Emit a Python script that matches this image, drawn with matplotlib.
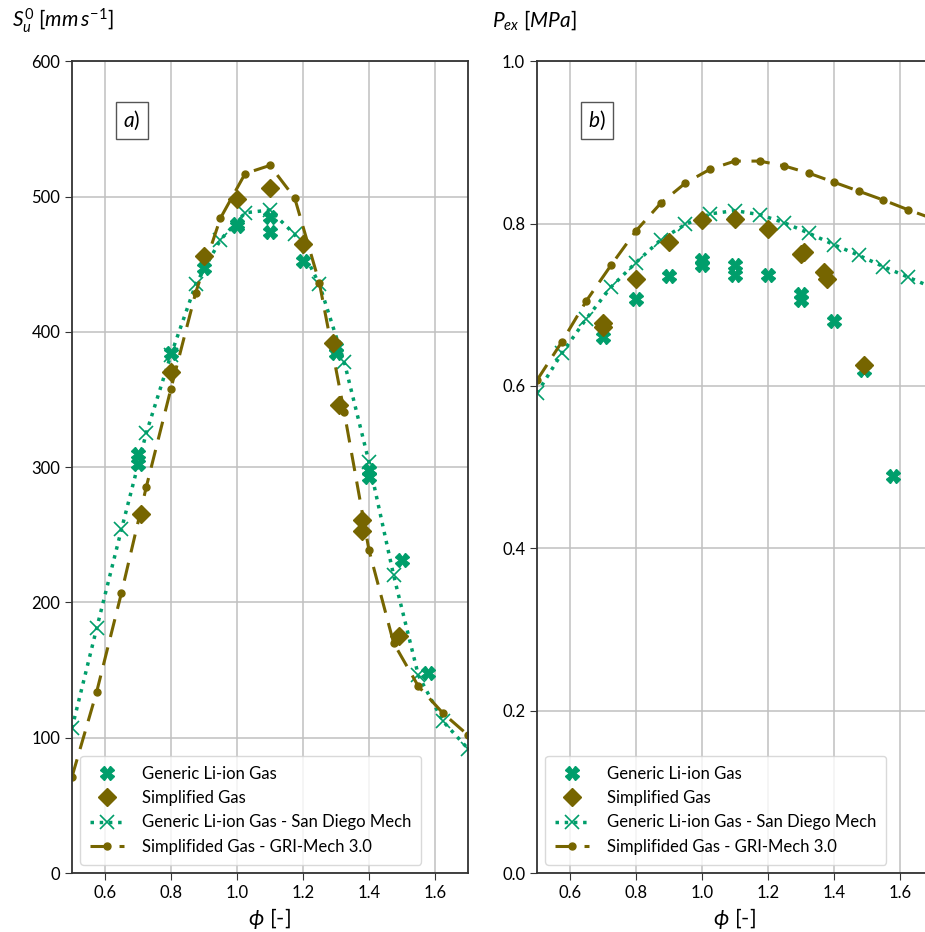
import matplotlib
matplotlib.use("Agg")
import matplotlib.pyplot as plt

plt.rcParams["font.family"] = ["Lato", "DejaVu Sans"]
plt.rcParams["mathtext.fontset"] = "custom"
plt.rcParams["mathtext.rm"] = "Lato"
plt.rcParams["mathtext.it"] = "Lato:italic"

GREEN = "#009e6b"
OLIVE = "#766500"

# equivalence ratio grid of the mechanism curves
phi_mech = [0.5, 0.575, 0.65, 0.725, 0.8, 0.875, 0.95, 1.025, 1.1, 1.175,
            1.25, 1.325, 1.4, 1.475, 1.55, 1.625, 1.7]

# (a) laminar burning velocity [mm/s]
gen_a_phi = [0.70, 0.70, 0.80, 0.90, 1.00, 1.00, 1.10, 1.10, 1.20, 1.30, 1.30, 1.40, 1.40, 1.50, 1.58]
gen_a_su = [310, 302, 384, 447, 480, 478, 485, 474, 452, 389, 384, 298, 293, 231, 148]
simp_a_phi = [0.71, 0.80, 0.90, 1.00, 1.10, 1.20, 1.29, 1.31, 1.38, 1.38, 1.49]
simp_a_su = [265, 370, 456, 498, 506, 465, 392, 346, 261, 253, 175]
sd_a = [107, 181, 254, 325, 383, 435, 468, 488, 490, 472, 435, 378, 304, 220, 146, 112, 92]
gri_a = [71, 134, 207, 285, 358, 429, 484, 517, 523, 499, 436, 341, 239, 170, 138, 118, 102]

# (b) explosion pressure [MPa]
gen_b_phi = [0.70, 0.80, 0.90, 1.00, 1.00, 1.10, 1.10, 1.20, 1.30, 1.30, 1.40, 1.49, 1.58]
gen_b_p = [0.660, 0.707, 0.736, 0.755, 0.749, 0.749, 0.737, 0.737, 0.713, 0.706, 0.680, 0.620, 0.489]
simp_b_phi = [0.70, 0.70, 0.80, 0.90, 1.00, 1.10, 1.20, 1.30, 1.31, 1.37, 1.38, 1.49]
simp_b_p = [0.677, 0.672, 0.732, 0.777, 0.804, 0.806, 0.793, 0.762, 0.765, 0.740, 0.732, 0.626]
sd_b = [0.591, 0.640, 0.683, 0.722, 0.752, 0.780, 0.799, 0.812, 0.816, 0.811,
        0.801, 0.788, 0.774, 0.761, 0.747, 0.734, 0.721]
gri_b = [0.607, 0.654, 0.705, 0.749, 0.791, 0.825, 0.850, 0.867, 0.877, 0.877,
         0.871, 0.862, 0.851, 0.840, 0.829, 0.817, 0.806]

x_ticks = [0.6, 0.8, 1.0, 1.2, 1.4, 1.6]
labels = ["Generic Li-ion Gas", "Simplified Gas",
          "Generic Li-ion Gas - San Diego Mech", "Simplifided Gas - GRI-Mech 3.0"]

FS = 12


def draw_panel(ax, gx, gy, sx, sy, sd, gri, ylim, yticks, tag, ylabel, ylab_x):
    ax.plot(gx, gy, "X", color=GREEN, ms=10, ls="none", label=labels[0], zorder=3)
    ax.plot(sx, sy, "D", color=OLIVE, ms=9, ls="none", label=labels[1], zorder=3)
    ax.plot(phi_mech, sd, color=GREEN, ls=":", lw=2.5, marker="x", ms=10,
            mew=1.2, label=labels[2], zorder=2)
    ax.plot(phi_mech, gri, color=OLIVE, lw=2.2, dashes=(6, 3.5), marker="o",
            ms=5, label=labels[3], zorder=2)
    ax.set_xlim(0.5, 1.7)
    ax.set_ylim(*ylim)
    ax.set_xticks(x_ticks)
    ax.set_yticks(yticks)
    ax.grid(True, color="#c0c0c0", lw=1.1)
    ax.set_axisbelow(True)
    ax.tick_params(labelsize=FS, length=5, color="#333333")
    for s in ax.spines.values():
        s.set_color("#333333")
        s.set_linewidth(1.3)
    ax.set_xlabel(r"$\phi$ [-]", fontsize=16, labelpad=4)
    ax.text(0.152, 0.927, tag, transform=ax.transAxes, fontsize=15,
            ha="center", va="center",
            bbox=dict(boxstyle="square,pad=0.35", fc="white", ec="#555555", lw=1))
    ax.text(ylab_x, 1.05, ylabel, transform=ax.transAxes, fontsize=15,
            ha="left", va="center")
    ax.legend(loc="lower left", fontsize=FS, borderaxespad=0.5, handlelength=2.0,
              framealpha=0.8, edgecolor="#d0d0d0", labelspacing=0.5,
              handletextpad=1.1, borderpad=0.6)


fig = plt.figure(figsize=(9.25, 9.32), dpi=100)
ax_a = fig.add_axes([0.0778, 0.0633, 0.428, 0.871])
ax_b = fig.add_axes([0.5805, 0.0633, 0.428, 0.871])

draw_panel(ax_a, gen_a_phi, gen_a_su, simp_a_phi, simp_a_su, sd_a, gri_a,
           (0, 600), [0, 100, 200, 300, 400, 500, 600], r"$a$)",
           r"$S_u^0\ [mm\,s^{-1}]$", -0.152)
draw_panel(ax_b, gen_b_phi, gen_b_p, simp_b_phi, simp_b_p, sd_b, gri_b,
           (0.0, 1.0), [0.0, 0.2, 0.4, 0.6, 0.8, 1.0], r"$b$)",
           r"$P_{ex}\ [MPa]$", -0.114)

fig.savefig("out.png", dpi=100)
